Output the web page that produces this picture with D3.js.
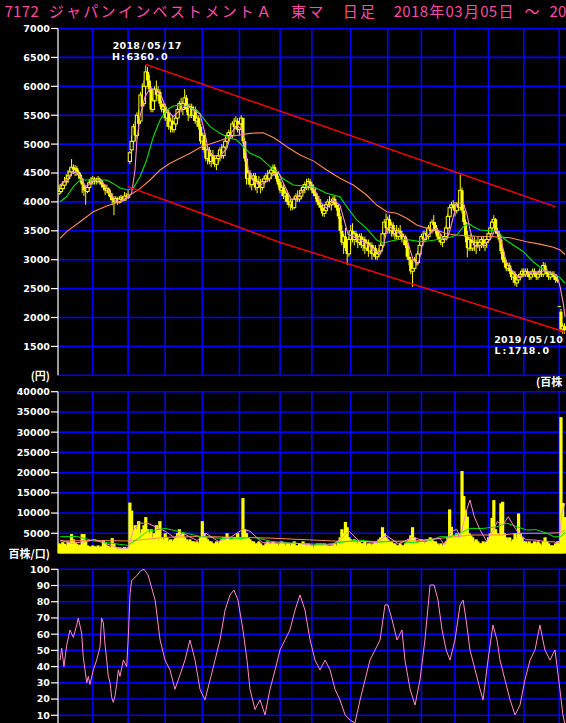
<!DOCTYPE html>
<html><head><meta charset="utf-8">
<script src="https://cdn.jsdelivr.net/npm/d3@7"></script>
<style>html,body{margin:0;padding:0;background:#000;overflow:hidden}</style>
</head><body><svg id="c" width="566" height="723"></svg>
<script>
// ---------------- DATA ----------------
const titleText = "7172 ジャパンインベストメントＡ　東マ　日足　2018年03月05日 ～ 20";
const monthStarts = [19,39,60,81,102,125,143,165,186,205,224,243,263,283];
const priceTicks = [1500,2000,2500,3000,3500,4000,4500,5000,5500,6000,6500,7000];
const volTicks = [5000,10000,15000,20000,25000,30000,35000,40000];
const oscTicks = [10,20,30,40,50,60,70,80,90,100];
// daily [open, high, low, close]
const ohlc = [
[4150,4300,4120,4180],[4180,4300,4150,4230],[4230,4350,4200,4290],[4290,4430,4250,4350],[4350,4480,4300,4400],
[4400,4550,4330,4450],[4450,4600,4400,4520],[4520,4740,4480,4600],[4600,4650,4480,4560],[4560,4640,4450,4580],
[4580,4620,4450,4520],[4520,4550,4400,4470],[4470,4500,4330,4400],[4400,4420,4150,4300],[4300,4330,4100,4200],
[4200,4250,3950,4180],[4180,4300,4150,4250],[4250,4400,4200,4330],[4330,4430,4290,4360],[4360,4450,4300,4400],
[4400,4430,4300,4380],[4380,4420,4300,4350],[4350,4450,4320,4400],[4400,4420,4300,4370],[4370,4380,4250,4300],
[4300,4330,4200,4250],[4250,4300,4120,4200],[4200,4300,4150,4230],[4230,4250,4100,4150],[4150,4200,4030,4080],
[4080,4150,3950,4030],[4030,4100,3770,4000],[4000,4100,3980,4060],[4060,4080,3950,3990],[3990,4100,3970,4050],
[4050,4120,4000,4080],[4080,4100,4000,4030],[4030,4170,4020,4100],[4100,4150,4050,4080],[4080,4200,4050,4120],
[4700,4880,4650,4850],[4900,5150,4850,5050],[5050,5350,5000,5300],[5300,5400,5050,5150],[5150,5550,5100,5500],
[5500,5600,5250,5350],[5400,5900,5350,5850],[5850,6050,5600,5650],[5700,6100,5650,6000],[6000,6360,5950,6250],
[6250,6330,6000,6100],[6100,6200,5900,5950],[5950,6000,5550,5600],[5600,5800,5550,5750],[5750,6000,5700,5950],
[5950,6100,5800,5850],[5850,6000,5750,5900],[5900,5950,5650,5700],[5700,5750,5550,5600],[5600,5700,5500,5650],
[5650,5700,5400,5450],[5450,5600,5300,5550],[5550,5600,5250,5300],[5300,5450,5200,5400],[5400,5500,5200,5250],
[5250,5400,5200,5350],[5350,5500,5300,5450],[5450,5650,5400,5600],[5600,5750,5500,5700],[5700,5800,5550,5600],
[5600,5750,5500,5700],[5700,5950,5650,5800],[5800,5850,5550,5600],[5600,5700,5400,5500],[5500,5700,5450,5650],
[5650,5700,5450,5500],[5500,5650,5400,5600],[5600,5650,5350,5400],[5400,5500,5300,5450],[5450,5500,5250,5300],
[5300,5350,5000,5050],[5050,5200,4900,5150],[5150,5200,4850,4900],[4900,5000,4700,4750],[4750,4950,4650,4900],
[4900,4950,4650,4700],[4700,4850,4600,4800],[4800,4900,4650,4700],[4700,4800,4600,4650],[4650,4800,4550,4750],
[4750,4850,4650,4800],[4800,4950,4700,4900],[4900,5000,4750,4800],[4800,5000,4750,4950],[4950,5100,4900,5050],
[5050,5200,5000,5150],[5150,5250,5050,5200],[5200,5300,5100,5150],[5150,5400,5100,5350],[5350,5450,5250,5300],
[5300,5480,5250,5400],[5400,5450,5200,5250],[5250,5400,5150,5350],[5350,5500,5300,5450],[5450,5450,5000,5050],
[5050,5100,4700,4750],[4750,4800,4300,4400],[4400,4550,4300,4500],[4500,4550,4250,4300],[4300,4450,4200,4400],
[4400,4500,4300,4450],[4450,4500,4200,4250],[4250,4400,4150,4350],[4350,4450,4250,4300],[4300,4400,4150,4250],
[4250,4400,4200,4350],[4350,4450,4300,4400],[4400,4500,4350,4450],[4450,4550,4350,4400],[4400,4550,4350,4500],
[4500,4600,4400,4550],[4550,4650,4450,4600],[4600,4650,4450,4500],[4500,4550,4350,4400],[4400,4450,4250,4300],
[4350,4400,4150,4200],[4200,4300,4100,4250],[4250,4300,4050,4100],[4100,4200,4000,4150],[4150,4200,3950,4000],
[4000,4100,3900,3950],[3950,4050,3850,4000],[4000,4050,3860,3900],[3900,4100,3880,4050],[4050,4150,4000,4100],
[4100,4200,4000,4050],[4050,4150,4000,4100],[4100,4250,4050,4200],[4200,4300,4150,4250],[4250,4350,4150,4300],
[4300,4400,4200,4250],[4250,4410,4200,4350],[4350,4400,4250,4300],[4300,4350,4150,4200],[4200,4300,4100,4150],
[4150,4250,4050,4100],[4100,4150,3950,4000],[4000,4100,3900,3950],[3950,4050,3850,3900],[3900,3950,3750,3800],
[3800,3900,3740,3850],[3850,4000,3800,3950],[3950,4050,3900,4000],[4000,4100,3900,3950],[3950,4050,3850,4000],
[4000,4100,3950,4050],[4050,4100,3900,3950],[3950,4000,3850,3900],[3900,3950,3700,3750],[3750,3800,3450,3500],
[3500,3600,3250,3300],[3300,3450,3100,3400],[3400,3550,3150,3200],[3200,3300,2910,3100],[3100,3400,3050,3350],
[3350,3600,3250,3500],[3500,3630,3300,3350],[3350,3500,3250,3450],[3450,3500,3300,3400],[3400,3450,3200,3300],
[3300,3450,3250,3400],[3400,3460,3200,3250],[3250,3400,3150,3350],[3350,3400,3100,3200],[3200,3350,3150,3300],
[3300,3350,3050,3150],[3150,3300,3100,3250],[3250,3300,3000,3100],[3100,3250,3050,3200],[3200,3250,3000,3050],
[3050,3150,2990,3100],[3100,3200,3050,3150],[3150,3300,3100,3250],[3250,3500,3200,3450],[3450,3700,3400,3650],
[3650,3800,3500,3550],[3550,3750,3450,3700],[3700,3780,3450,3500],[3500,3650,3400,3600],[3600,3650,3400,3450],
[3450,3550,3350,3500],[3500,3600,3350,3400],[3400,3550,3350,3500],[3500,3600,3400,3450],[3450,3500,3300,3350],
[3350,3450,3250,3400],[3400,3420,3200,3250],[3250,3300,3000,3050],[3050,3150,2900,3000],[3000,3050,2750,2800],
[2800,2950,2530,2850],[2850,3050,2800,3000],[3000,3100,2900,2950],[2950,3150,2900,3100],[3100,3300,3050,3250],
[3250,3450,3200,3400],[3400,3500,3300,3350],[3350,3500,3300,3450],[3450,3550,3350,3400],[3400,3600,3350,3550],
[3550,3650,3450,3500],[3500,3700,3450,3650],[3650,3770,3550,3600],[3600,3650,3450,3500],[3500,3550,3350,3400],
[3400,3500,3300,3350],[3350,3450,3250,3300],[3300,3400,3220,3350],[3350,3450,3300,3400],[3400,3600,3350,3550],
[3550,3800,3500,3750],[3750,3950,3700,3900],[3900,4000,3800,3950],[3950,4030,3850,3900],[3900,4000,3750,3850],
[3850,4000,3800,3950],[3950,4050,3850,3900],[3900,4470,3850,4200],[4200,4250,3800,3850],[3850,3950,3600,3650],
[3650,3700,3300,3400],[3400,3500,3040,3200],[3200,3400,3150,3350],[3350,3450,3150,3200],[3200,3350,3150,3300],
[3300,3400,3150,3250],[3250,3350,3100,3300],[3300,3400,3200,3250],[3250,3350,3150,3300],[3300,3400,3200,3350],
[3350,3400,3200,3250],[3250,3350,3150,3300],[3300,3400,3200,3350],[3350,3500,3300,3450],[3450,3600,3400,3550],
[3550,3700,3500,3650],[3650,3770,3550,3700],[3700,3720,3450,3500],[3500,3550,3400,3450],[3450,3500,3300,3350],
[3350,3400,3100,3150],[3150,3200,2950,3000],[3000,3050,2870,2950],[2950,3000,2800,2850],[2850,2950,2800,2900],
[2900,2950,2750,2800],[2800,2850,2650,2700],[2700,2800,2600,2750],[2750,2800,2550,2600],[2600,2700,2530,2650],
[2650,2750,2600,2700],[2700,2800,2650,2750],[2750,2850,2700,2800],[2800,2850,2700,2750],[2750,2850,2700,2800],
[2800,2850,2700,2750],[2750,2800,2650,2700],[2700,2800,2650,2750],[2750,2850,2700,2800],[2800,2850,2700,2750],
[2750,2800,2650,2700],[2700,2800,2650,2750],[2750,2850,2700,2800],[2800,2850,2700,2750],[2750,2960,2700,2900],
[2900,2950,2750,2800],[2800,2850,2700,2750],[2750,2800,2650,2700],[2700,2800,2650,2750],[2750,2800,2700,2750],
[2750,2800,2650,2700],[2700,2750,2600,2650],[2650,2700,2600,2650],[2200,2200,2200,2200],[2100,2150,1750,1800],
[1800,1900,1720,1850],[1850,1900,1718,1780]
];
const volume = [
2500,2200,2800,2400,2000,3000,2600,4800,3500,2800, 2400,2000,2200,4800,4800,3000,2000,1800,1500,2000,
1800,1600,2000,1500,1800,3300,2500,2000,1800,1500, 3800,2500,1500,1200,1500,1300,1400,1600,1200,1500,
12600,10600,5800,7000,6000,8000,5000,6000,7000,9000, 6000,5000,6000,4000,5000,7000,6000,8000,4000,3500,
5000,4000,3000,3500,3000,3500,4000,5000,6000,4500, 5000,4000,3500,3000,3500,3000,3000,2800,3000,2500,
4000,8000,5000,4000,3500,3000,3000,2500,2500,3000, 2500,3000,3500,4000,3500,5000,4000,3500,3500,4000,
4000,5000,4000,3500,13700,6000,5000,4000,3500,3000, 3000,2500,2500,3000,2500,2000,2000,2500,3000,2500,
2500,3000,2500,2500,2000,2500,3000,2500,2000,2500, 2500,2000,2500,3000,2000,2000,2500,2500,3000,2500,
2000,2500,2000,2000,1500,2000,2500,2000,2500,2000, 2500,2000,2000,1800,2000,2000,2500,2000,3000,4000,
6000,5000,7800,6500,4000,3500,3000,3500,3000,2500, 3000,2500,2500,3000,2000,2500,2500,2000,2500,3000,
2500,3500,4000,6500,5000,4000,3500,3000,3000,2500, 2500,2000,2000,2500,2000,2000,2500,3000,3500,4500,
6500,4000,3000,2500,3000,3500,3000,2500,3000,3500, 4000,3500,3000,3000,2500,2000,2500,2000,2500,3000,
4000,10900,6600,4500,4000,5000,4000,5000,20400,14200, 10700,9100,5000,4500,4000,3000,3500,3000,2500,2500,
3000,2500,3000,4000,5000,8800,13200,6000,5000,4500, 12400,12800,5000,4000,3500,4000,3000,3500,5000,4000,
9900,5000,4000,3000,3000,2500,3000,2500,2500,3000, 2500,3000,2500,2000,3000,4000,3000,2500,2000,2000,
2000,2500,3000,3000,33700,12500,9000
];
// moving averages: [day index, value]
const maShort = [[0.5,4292],[4.2,4379],[7,4495],[9.9,4522],[12.7,4408],[14.6,4263],[16.5,4292],[19.3,4379],[23.1,4379],[25.9,4292],[28.8,4149],[31.6,4033],[34.4,4003],[38.2,4062],[41,4149],[42.9,4552],[44,5071],[45.7,5475],[48.6,5820],[51.4,5965],[55.2,5936],[58,5820],[60.8,5590],[64.6,5475],[68.4,5590],[72.2,5676],[75.9,5590],[79.7,5520],[82.5,5190],[84.4,4890],[87.2,4800],[91,4790],[94.8,4920],[97.6,5200],[100.5,5330],[103.3,5250],[105.2,4960],[107,4552],[109.9,4360],[113.7,4290],[117.5,4350],[121.2,4470],[124,4522],[127.8,4263],[131.6,4033],[134.4,4062],[138.2,4206],[142,4292],[144.8,4206],[147.6,4003],[151.4,3889],[155.2,4033],[158.9,3940],[161.8,3630],[163.5,3440],[166.5,3398],[170.3,3341],[174,3284],[177.8,3168],[181.6,3111],[183.5,3225],[185.4,3514],[187.2,3571],[189.1,3514],[192.9,3457],[196.7,3370],[198.6,3168],[200.4,2995],[203.3,2938],[204.2,3052],[206.1,3341],[208,3398],[211.8,3514],[213.7,3543],[215.6,3457],[217.4,3370],[219.3,3341],[221.2,3514],[223.1,3744],[225,3976],[228.8,3976],[230.7,3803],[232.5,3514],[235.4,3225],[240,3254],[243.8,3341],[246.7,3514],[248.5,3485],[250.5,3284],[253.3,2938],[256.1,2822],[259.9,2707],[263.6,2736],[267.4,2793],[271.2,2765],[275,2822],[278.8,2765],[281.6,2736],[283.5,2533],[285.3,2246],[286.3,2014]];
const maMid = [[0.5,4003],[4.2,4090],[8,4263],[11.8,4379],[15.6,4379],[26.9,4379],[30.5,4320],[34.4,4240],[38.9,4205],[41.9,4235],[45.7,4436],[49.5,4725],[53.3,5128],[57.1,5417],[60.8,5590],[64.6,5659],[68.4,5676],[72.2,5647],[77.8,5590],[79.7,5533],[81.6,5446],[85.4,5301],[91,5186],[96.7,5100],[100.5,5071],[104.2,4955],[108,4841],[113.6,4770],[119.3,4609],[123.1,4522],[126.8,4400],[132.5,4292],[138.2,4275],[143.8,4263],[151.4,4149],[158.9,4090],[162.7,3917],[168.4,3687],[174,3543],[179.7,3341],[183.5,3290],[187.2,3320],[192.9,3353],[198.6,3341],[204.2,3312],[209.9,3329],[215.6,3353],[221.2,3387],[225,3427],[228.7,3571],[231.6,3630],[234.4,3571],[238.2,3514],[243.8,3502],[247.6,3514],[251.4,3370],[257,3254],[262.7,3138],[268.4,2960],[274,2830],[278.8,2765],[283.5,2690],[286.3,2592]];
const maLong = [[0.5,3370],[4.2,3485],[11.8,3657],[19.3,3830],[26.9,3929],[34.4,4003],[40.1,4120],[45.7,4230],[51.4,4379],[57.1,4552],[62.7,4667],[68.4,4754],[74.1,4841],[79.7,4940],[89.1,5041],[98.5,5140],[108,5186],[115.5,5197],[121.2,5115],[124.9,5041],[128.8,4955],[136.3,4811],[143.8,4710],[151.4,4552],[158.9,4408],[166.5,4292],[174,4119],[179.7,3946],[185.4,3830],[191,3803],[196.7,3716],[202.4,3600],[208,3543],[213.7,3514],[219.3,3450],[225,3427],[236.3,3405],[245.7,3398],[255.1,3380],[264.6,3312],[272.1,3270],[279.7,3215],[283.5,3168],[286.3,3090]];
// trend lines [day index, price]
const trendUpper = [[49,6380],[280.6,3917]];
const trendLower = [[38.8,4263],[83.1,3773],[124.9,3301],[286.3,1749]];
// volume moving averages [day index, value]
const volMaShort = [[0.5,3300],[7,2500],[16,3000],[20,3500],[26,2500],[34,1300],[39,1300],[42,5800],[45,7500],[50,7500],[55,6500],[60,5500],[65,4000],[70,5000],[78,3200],[83,5000],[90,3000],[97,4000],[104,6000],[108,5500],[115,2700],[125,2600],[135,2500],[145,2000],[155,2200],[160,3800],[164,5500],[170,3000],[180,2700],[185,4500],[192,2400],[200,4000],[206,3200],[215.5,3750],[218,2100],[222,5400],[225,6000],[227,4000],[230.6,10750],[232.5,13200],[235,9000],[238,6000],[242,3000],[245.7,5800],[248,7900],[251,7000],[254.2,9100],[257,7000],[260,5000],[264,3400],[270,3300],[276,2900],[280,2900],[283,2500],[284.4,9900],[286.3,12400]];
const volMaMid = [[0.5,4150],[10,4200],[20,3100],[30,2500],[39,2000],[44,3500],[50,5500],[60,6200],[70,5200],[80,4200],[90,3800],[100,3600],[110,4000],[120,3000],[130,2600],[140,2400],[150,2200],[160,2800],[170,3300],[180,2800],[190,3000],[200,2700],[210,3200],[215.5,4150],[221,4150],[226.9,5000],[232.5,6200],[240,6200],[247.6,6600],[253.3,7500],[258,6800],[264.6,5800],[270,5900],[276,5000],[280,4150],[284,4150],[286.3,5400]];
const volMaLong = [[0.5,3100],[20,3200],[40,3100],[60,4000],[80,4200],[100,4000],[120,3800],[140,3400],[160,3000],[180,3000],[200,3100],[215.5,3750],[233.3,4570],[250,4570],[260,5000],[275,5000],[283.5,5150],[286.3,5800]];
// oscillator [day index, value]
const osc = [[0.5,44],[1.4,51.5],[2.7,40],[4.2,53],[6.1,62.6],[8,58],[9.9,65.6],[10.8,70],[12.7,60.7],[13.6,46],[14.6,38],[15.6,30],[16.5,34],[17.4,29],[19.3,38],[21.2,44],[23.1,52],[24,70],[25,67],[25.9,54],[26.9,44],[27.8,34],[28.8,30],[29.7,21],[30.6,18],[31.6,22],[32.5,29],[33.5,38],[34.4,34],[36.3,44],[38.2,40],[39.1,58],[40.1,85],[41,93],[41.9,94],[43.9,96],[46,99],[48,100],[50.3,96.5],[54.3,81],[57.1,56.4],[59.9,44],[62.7,38],[65.5,26],[68.4,35],[71.2,44],[74,56.4],[76.9,44],[79.7,26],[82.5,19.5],[85.4,31.8],[88.2,44],[91,56.4],[93.9,74.9],[96.7,84.2],[98.9,87.2],[101.2,81],[104,62.6],[106.3,44],[108,26],[110.8,13.6],[113.7,19.5],[116.5,10.2],[119.3,26],[122.2,38],[125,50.3],[127.8,56.4],[130.6,62.6],[133.5,74.9],[136.3,84.2],[139.1,74.9],[142,56.4],[144.8,44],[147.6,38],[150.5,44],[153.3,38],[156.1,26],[158.9,19.5],[161.8,10.2],[164.6,7.1],[167.4,5.3],[170.3,19.5],[173.1,31.8],[175.9,44],[178.8,50.3],[181.6,56.4],[184.4,78],[186.1,78],[188.4,68.9],[191.2,56.4],[194,62.6],[195.7,44],[198.6,26],[201.4,16.3],[204.2,31.8],[207,56.4],[209.9,90.3],[212.2,90.3],[214.4,81],[216.7,62.6],[219,50.3],[221.2,44],[224,56.4],[226.9,78],[228.6,81],[230.3,68.9],[232.5,50.3],[235.4,38],[238.2,26],[239.9,19.5],[242.7,44],[245.5,65.6],[247.8,56.4],[249.5,44],[252.3,31.8],[255.2,19.5],[258,10.2],[260.8,16.3],[263.6,31.8],[266.5,44],[269.3,50.3],[272.1,65.6],[274.9,50.3],[277.8,44],[280.6,50.3],[283.4,26],[285.1,10.2],[286.3,4]];

// ---------------- DRAWING ----------------
const W = 566, H = 723;
const svg = d3.select('#c');
svg.append('rect').attr('width', W).attr('height', H).attr('fill', '#000');

const x = d3.scaleLinear().domain([0, 286]).range([59.2, 564.5]);
const axisX = 58;
const BLUE = '#0000ff', YEL = '#ffff00', PINK = '#ff8ad0', GREEN = '#00e600', ORANGE = '#ff8c50', RED = '#ff0000';

const panels = {
  price: {y: d3.scaleLinear().domain([1000, 7000]).range([375.3, 28.5]), top: 28.5, bottom: 375.3, ticks: priceTicks, grid: [1000].concat(priceTicks)},
  vol:   {y: d3.scaleLinear().domain([0, 40000]).range([553.5, 391.7]), top: 391.7, bottom: 553.5, ticks: volTicks, grid: volTicks},
  osc:   {y: d3.scaleLinear().domain([0, 100]).range([731.5, 569.3]), top: 569.3, bottom: H, ticks: oscTicks, grid: oscTicks}
};

const defs = svg.append('defs');
Object.entries(panels).forEach(([k, p]) => {
  defs.append('clipPath').attr('id', 'clip-' + k)
    .append('rect').attr('x', axisX).attr('y', p.top - 2).attr('width', W - axisX).attr('height', p.bottom - p.top + 4);
});

function monoText(g, str, xRight, yBase, adv, fill, size) {
  const n = str.length;
  const start = xRight - n * adv;
  g.append('text').attr('y', yBase).attr('fill', fill)
    .attr('font-family', 'DejaVu Sans, sans-serif').attr('font-weight', 'bold').attr('font-size', size || 9.5)
    .attr('text-anchor', 'middle')
    .selectAll('tspan').data(str.split('')).join('tspan')
    .attr('x', (d, i) => start + (i + 0.5) * adv).text(d => d);
}

// grid + axes
Object.entries(panels).forEach(([k, p]) => {
  const g = svg.append('g');
  g.selectAll('line.h').data(p.grid).join('line')
    .attr('x1', axisX).attr('x2', W).attr('y1', d => p.y(d)).attr('y2', d => p.y(d))
    .attr('stroke', BLUE).attr('stroke-width', 1.6);
  g.selectAll('line.v').data(monthStarts).join('line')
    .attr('x1', d => x(d)).attr('x2', d => x(d)).attr('y1', p.top).attr('y2', p.bottom)
    .attr('stroke', BLUE).attr('stroke-width', 1.6);
  g.append('line').attr('x1', axisX).attr('x2', axisX).attr('y1', p.top).attr('y2', p.bottom)
    .attr('stroke', '#fff').attr('stroke-width', 1.2);
  g.selectAll('line.t').data(p.ticks).join('line')
    .attr('x1', 51).attr('x2', axisX).attr('y1', d => p.y(d)).attr('y2', d => p.y(d))
    .attr('stroke', '#fff').attr('stroke-width', 1.2);
  p.ticks.forEach(t => monoText(g, String(t), 50, p.y(t) + 3.4, 6.67, '#fff'));
});

// unit labels (as visible in the cropped original)
const unitFont = 'Noto Sans CJK JP, sans-serif';
svg.append('text').attr('x', 50).attr('y', 379.5).attr('text-anchor', 'end').attr('fill', '#fff')
  .attr('font-family', unitFont).attr('font-weight', 'bold').attr('font-size', 11).text('(円)');
svg.append('text').attr('x', 50).attr('y', 557.5).attr('text-anchor', 'end').attr('fill', '#fff')
  .attr('font-family', unitFont).attr('font-weight', 'bold').attr('font-size', 11).text('百株/口)');
svg.append('text').attr('x', 536).attr('y', 386).attr('text-anchor', 'start').attr('fill', '#fff')
  .attr('font-family', unitFont).attr('font-weight', 'bold').attr('font-size', 11).text('(百株');

// ---- price panel ----
const yP = panels.price.y;
const gp = svg.append('g').attr('clip-path', 'url(#clip-price)');
const days = ohlc.map((d, i) => ({i, o: d[0], h: d[1], l: d[2], c: d[3]}));
gp.selectAll('line.w').data(days).join('line')
  .attr('x1', d => x(d.i)).attr('x2', d => x(d.i)).attr('y1', d => yP(d.h)).attr('y2', d => yP(d.l))
  .attr('stroke', YEL).attr('stroke-width', 1);
gp.selectAll('rect.b').data(days).join('rect')
  .attr('x', d => x(d.i) - 1.6).attr('width', 3.2)
  .attr('y', d => yP(Math.max(d.o, d.c)))
  .attr('height', d => Math.max(1, Math.abs(yP(d.o) - yP(d.c))))
  .attr('fill', d => d.c > d.o ? '#000' : YEL)
  .attr('stroke', d => d.c > d.o ? YEL : 'none').attr('stroke-width', 1);

const lineP = d3.line().x(d => x(d[0])).y(d => yP(d[1]));
[[maLong, ORANGE], [maMid, GREEN], [maShort, PINK]].forEach(([arr, col]) => {
  gp.append('path').attr('d', lineP(arr)).attr('fill', 'none').attr('stroke', col).attr('stroke-width', 1.1);
});
[trendUpper, trendLower].forEach(arr => {
  gp.append('path').attr('d', lineP(arr)).attr('fill', 'none').attr('stroke', RED).attr('stroke-width', 1.4);
});

// annotations
monoText(svg.append('g'), '2018/05/17', 112.5 + 10 * 6.9, 48.8, 6.9, '#fff');
monoText(svg.append('g'), 'H:6360.0', 112.5 + 8 * 6.9, 60, 6.9, '#fff');
monoText(svg.append('g'), '2019/05/10', 494 + 10 * 6.9, 343, 6.9, '#fff');
monoText(svg.append('g'), 'L:1718.0', 494 + 8 * 6.9, 354.3, 6.9, '#fff');

// ---- volume panel ----
const yV = panels.vol.y;
const gv = svg.append('g').attr('clip-path', 'url(#clip-vol)');
gv.selectAll('rect').data(volume).join('rect')
  .attr('x', (d, i) => x(i) - 1.6).attr('width', 3.2)
  .attr('y', d => yV(d)).attr('height', d => yV(0) - yV(d)).attr('fill', YEL);
const lineV = d3.line().x(d => x(d[0])).y(d => yV(d[1]));
[[volMaLong, ORANGE], [volMaMid, GREEN], [volMaShort, PINK]].forEach(([arr, col]) => {
  gv.append('path').attr('d', lineV(arr)).attr('fill', 'none').attr('stroke', col).attr('stroke-width', 1);
});

// ---- oscillator panel ----
const yO = panels.osc.y;
const go = svg.append('g').attr('clip-path', 'url(#clip-osc)');
go.append('path').attr('d', d3.line().x(d => x(d[0])).y(d => yO(d[1]))(osc))
  .attr('fill', 'none').attr('stroke', PINK).attr('stroke-width', 1);

// ---- title (character grid, as cropped in the original) ----
const tg = svg.append('g');
let unit = 0;
const chars = Array.from(titleText);
const cells = chars.map(ch => { const w = ch.charCodeAt(0) > 0xff ? 2 : 1; const c = {ch, u: unit, w}; unit += w; return c; });
tg.selectAll('text').data(cells).join('text')
  .attr('x', d => 4.3 + (d.u + d.w / 2) * 8.65).attr('y', 16.5)
  .attr('text-anchor', 'middle').attr('fill', '#ff4aa5')
  .attr('font-family', 'Noto Sans CJK JP, sans-serif').attr('font-size', 15)
  .text(d => d.ch);
</script>
</body></html>
